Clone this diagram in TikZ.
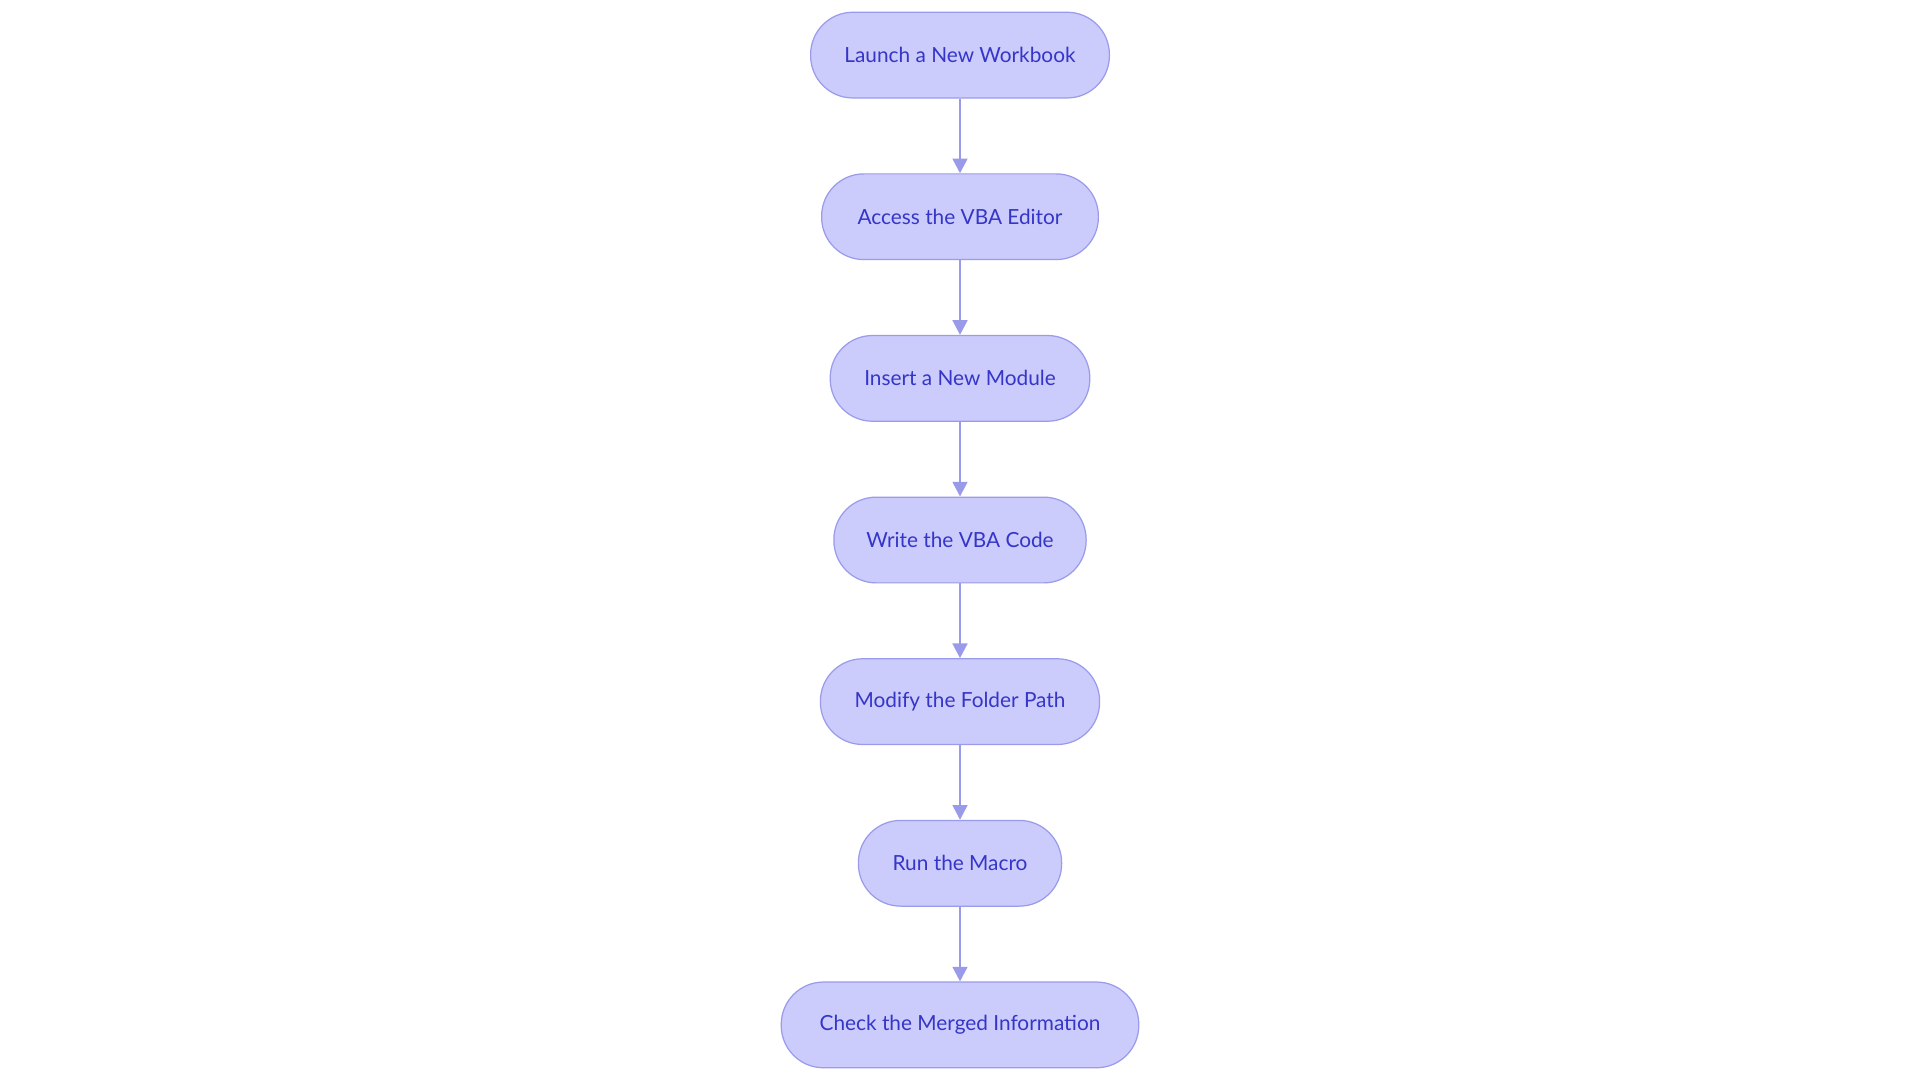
\documentclass[tikz,border=0pt]{standalone}
\usepackage{fontspec}
\setmainfont{Lato}
\usetikzlibrary{arrows.meta}
\definecolor{nfill}{HTML}{CBCBFC}
\definecolor{nline}{HTML}{9B9BEC}
\definecolor{ntext}{HTML}{3535C8}
\definecolor{aline}{HTML}{9A9AEA}
\begin{document}
\begin{tikzpicture}[x=1pt,y=-1pt,
  stepbox/.style={draw=nline,line width=1pt,fill=nfill,rounded corners=34.5pt,minimum height=70pt,inner sep=0pt,text=ntext,font=\fontsize{17}{20}\selectfont},
  arr/.style={draw=aline,line width=2pt,-{Triangle[length=12pt,width=12pt]}}]
\useasboundingbox (0,0) rectangle (1568,884);
\fill[white] (0,0) rectangle (1568,884);
\node[stepbox,minimum width=244pt] (n1) at (784,45) {Launch a New Workbook};
\node[stepbox,minimum width=226pt] (n2) at (784,177) {Access the VBA Editor};
\node[stepbox,minimum width=212pt] (n3) at (784,309) {Insert a New Module};
\node[stepbox,minimum width=206pt] (n4) at (784,441) {Write the VBA Code};
\node[stepbox,minimum width=228pt] (n5) at (784,573) {Modify the Folder Path};
\node[stepbox,minimum width=166pt] (n6) at (784,705) {Run the Macro};
\node[stepbox,minimum width=292pt] (n7) at (784,837) {Check the Merged Information};
\foreach \a/\b in {n1/n2,n2/n3,n3/n4,n4/n5,n5/n6,n6/n7}
  \draw[arr] (\a) -- (\b);
\end{tikzpicture}
\end{document}
